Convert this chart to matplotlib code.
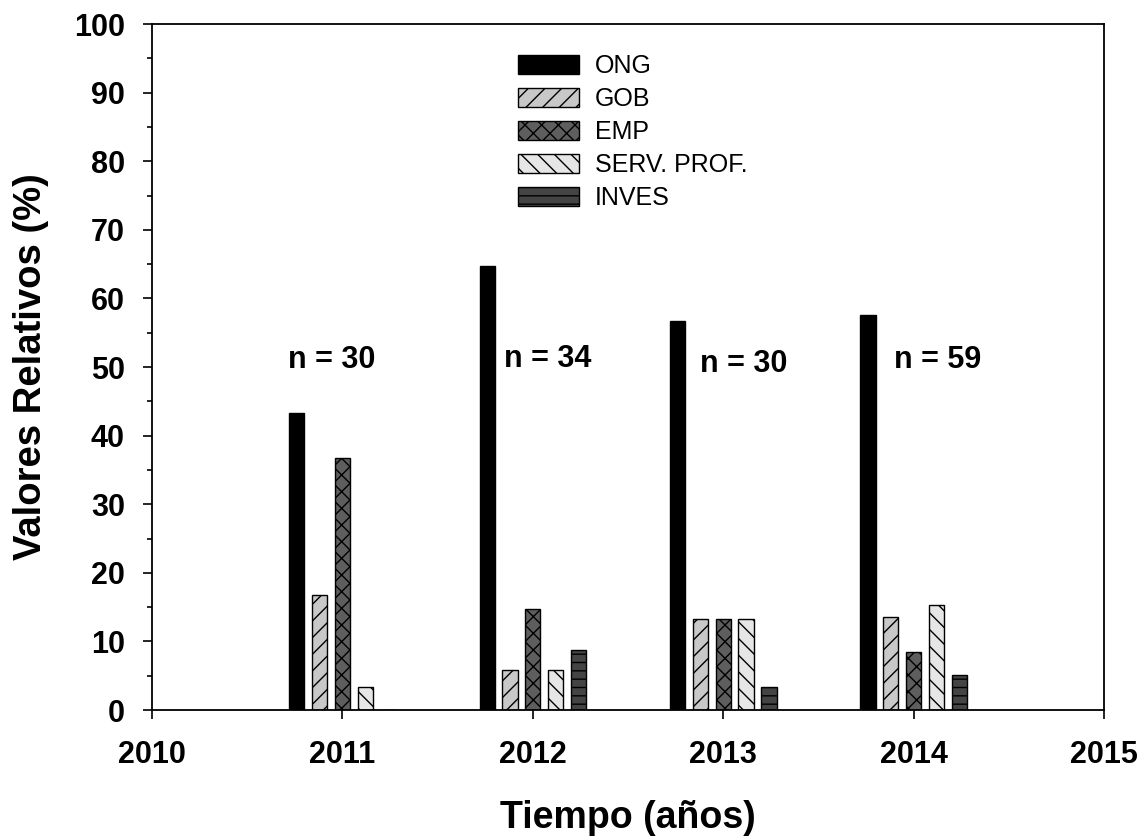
import numpy as np
import matplotlib
matplotlib.use('Agg')
import matplotlib.pyplot as plt
from matplotlib.ticker import MultipleLocator

plt.rcParams['font.family'] = ['Liberation Sans', 'DejaVu Sans']
plt.rcParams['hatch.linewidth'] = 1.0

# data
years = [2011, 2012, 2013, 2014]
sectors = ['ONG', 'GOB', 'EMP', 'SERV. PROF.', 'INVES']
ong = [43.3, 64.7, 56.7, 57.6]
gob = [16.7, 5.9, 13.3, 13.6]
emp = [36.7, 14.7, 13.3, 8.5]
serv = [3.3, 5.9, 13.3, 15.3]
inves = [0.0, 8.8, 3.3, 5.1]
n_labels = ['n = 30', 'n = 34', 'n = 30', 'n = 59']
n_x = [2010.945, 2012.08, 2013.11, 2014.128]
n_y = [49.8, 50.0, 49.3, 49.8]

series = [ong, gob, emp, serv, inves]
colors = ['#000000', '#c8c8c8', '#5e5e5e', '#e6e6e6', '#444444']
hatches = [None, '//', 'xx', '\\\\', '--']
offsets = [-0.24, -0.12, 0.0, 0.12, 0.24]
width = 0.08

fig = plt.figure(figsize=(11.45, 8.38), dpi=100)
ax = fig.add_axes([0.1328, 0.1527, 0.8314, 0.8186])

x = np.array(years, dtype=float)
for vals, name, c, h, off in zip(series, sectors, colors, hatches, offsets):
    ax.bar(x + off, vals, width=width, color=c, edgecolor='black',
           linewidth=1.0, hatch=h, label=name, zorder=2)

for lab, tx, ty in zip(n_labels, n_x, n_y):
    ax.text(tx, ty, lab, ha='center', va='baseline', fontsize=22,
            fontweight='bold')

ax.set_xlim(2010, 2015)
ax.set_ylim(0, 100)
ax.xaxis.set_major_locator(MultipleLocator(1))
ax.yaxis.set_major_locator(MultipleLocator(10))
ax.yaxis.set_minor_locator(MultipleLocator(5))
ax.tick_params(axis='both', which='major', direction='out', length=6.5, width=1.2,
               labelsize=22, pad=13)
ax.tick_params(axis='y', which='minor', direction='out', length=3.5, width=1.2)
ax.tick_params(axis='x', which='major', pad=15)
for lbl in ax.get_xticklabels() + ax.get_yticklabels():
    lbl.set_fontweight('bold')
for sp in ax.spines.values():
    sp.set_linewidth(1.3)

ax.set_xlabel('Tiempo (años)', fontsize=27, fontweight='bold')
ax.set_ylabel('Valores Relativos (%)', fontsize=27.5, fontweight='bold')
ax.xaxis.set_label_coords(0.5, -0.131)
ax.yaxis.set_label_coords(-0.108, 0.5)

ax.legend(loc='upper left', bbox_to_anchor=(0.384, 0.956), frameon=False,
          fontsize=18, handlelength=2.46, handleheight=0.82, labelspacing=0.36,
          handletextpad=0.62, borderpad=0, borderaxespad=0)

fig.savefig('out.png', dpi=100)
